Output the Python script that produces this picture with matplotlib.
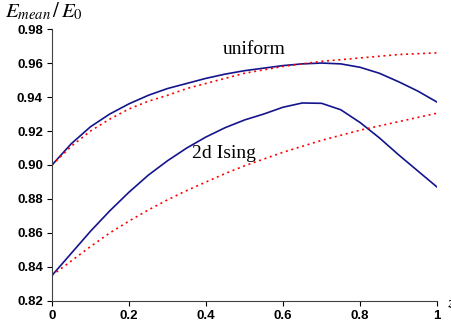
import matplotlib
matplotlib.use('Agg')
import matplotlib.pyplot as plt

plt.rcParams['mathtext.fontset'] = 'stix'

# values at steps of 0.05
xs = [0, 0.05, 0.1, 0.15, 0.2, 0.25, 0.3, 0.35, 0.4, 0.45, 0.5, 0.55, 0.6,
      0.65, 0.7, 0.75, 0.8, 0.85, 0.9, 0.95, 1.0]
uniform_exact = [0.900, 0.9125, 0.9225, 0.930, 0.936, 0.941, 0.945, 0.948, 0.951, 0.9535,
                 0.9555, 0.957, 0.9585, 0.9595, 0.960, 0.9595, 0.9575, 0.954, 0.949, 0.9435, 0.937]
uniform_fit = [0.900, 0.911, 0.920, 0.927, 0.933, 0.9375, 0.941, 0.945, 0.948, 0.951,
               0.954, 0.956, 0.958, 0.9595, 0.961, 0.962, 0.963, 0.964, 0.965, 0.9655, 0.966]
ising_exact = [0.835, 0.848, 0.861, 0.873, 0.884, 0.894, 0.9025, 0.910, 0.9165, 0.922,
               0.9265, 0.930, 0.934, 0.9365, 0.9363, 0.9325, 0.925, 0.916, 0.906, 0.8965, 0.887]
ising_fit = [0.835, 0.8435, 0.852, 0.860, 0.867, 0.8735, 0.8795, 0.885, 0.890, 0.895,
             0.8995, 0.9035, 0.9075, 0.911, 0.9145, 0.9175, 0.9205, 0.923, 0.9255, 0.928, 0.9305]

xticks = [0, 0.2, 0.4, 0.6, 0.8, 1]
xticklabels = ['0', '0.2', '0.4', '0.6', '0.8', '1']
yticks = [0.82, 0.84, 0.86, 0.88, 0.90, 0.92, 0.94, 0.96, 0.98]

fig = plt.figure(figsize=(4.52, 3.34), dpi=100)
ax = fig.add_axes([0.115, 0.099, 0.852, 0.814])

navy = '#14148c'
dots = (0, (1.2, 2.2))
ax.plot(xs, uniform_exact, color=navy, lw=1.2)
ax.plot(xs, uniform_fit, color='red', lw=1.2, ls=dots)
ax.plot(xs, ising_exact, color=navy, lw=1.2)
ax.plot(xs, ising_fit, color='red', lw=1.2, ls=dots)

ax.set_xlim(0, 1)
ax.set_ylim(0.82, 0.98)
ax.set_xticks(xticks)
ax.set_xticklabels(xticklabels)
ax.set_yticks(yticks)
ax.set_yticklabels(['%.2f' % v for v in yticks])
for lab in ax.get_xticklabels() + ax.get_yticklabels():
    lab.set_fontfamily('Liberation Sans')
    lab.set_fontweight('bold')
    lab.set_fontsize(9.5)
ax.tick_params(direction='out', length=3.5, width=0.8, pad=3)

ax.spines['top'].set_visible(False)
ax.spines['right'].set_visible(False)
ax.spines['left'].set_color('#404040')
ax.spines['bottom'].set_color('#404040')

ax.text(0.525, 0.968, 'uniform', family='Liberation Serif', fontsize=14,
        ha='center', va='center')
ax.text(0.447, 0.907, '2d Ising', family='Liberation Serif', fontsize=14,
        ha='center', va='center')

fig.text(0.012, 0.935, r'$E_{mean}\,/\,E_0$', fontsize=15, ha='left', va='bottom')
fig.text(0.988, 0.09, r'$z$', fontsize=11, ha='left', va='center')

fig.savefig('out.png', dpi=100)
